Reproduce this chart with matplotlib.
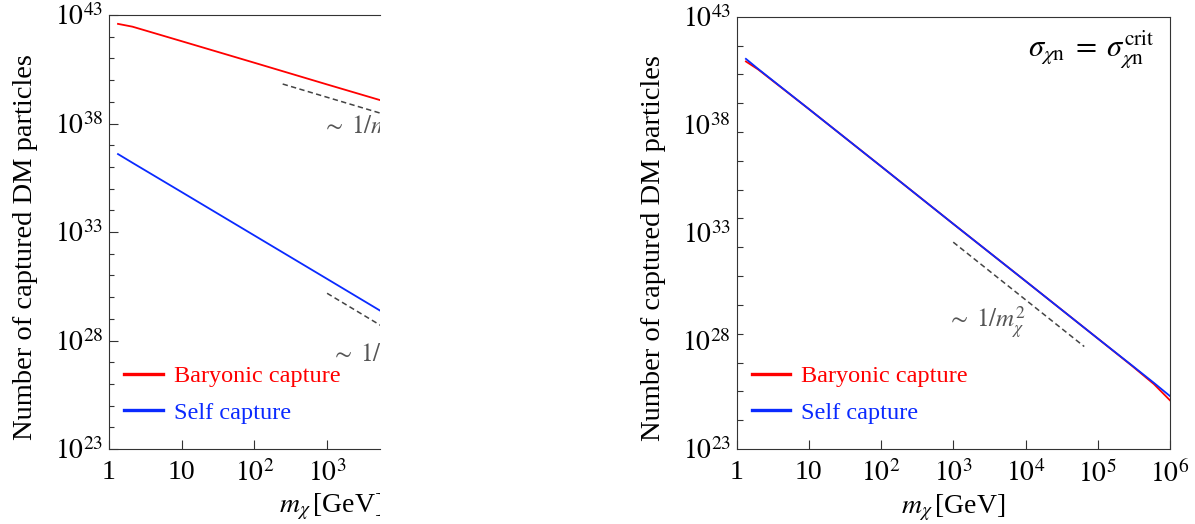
import numpy as np
import matplotlib
matplotlib.use("Agg")
import matplotlib.pyplot as plt
from matplotlib.ticker import FixedLocator, LogLocator, NullFormatter
from matplotlib.transforms import Bbox, TransformedBbox

plt.rcParams['font.family'] = ['Liberation Serif', 'DejaVu Serif']
plt.rcParams['mathtext.fontset'] = 'stix'

# left panel (cut off on the right in the original)
mx_left = [1.33, 2.1, 10, 100, 1e3, 6e3]
baryonic_left = [3.9e42, 2.9e42, 6.2e41, 6.3e40, 6.3e39, 1.07e39]
self_left = [3.9e36, 1.55e36, 6.9e34, 6.9e32, 6.9e30, 1.9e29]
guide1_x_left = [245, 6e3]
guide1_y_left = [6.6e39, 2.7e38]
guide2_x_left = [1e3, 6e3]
guide2_y_left = [1.5e30, 4.1e28]

# right panel, sigma = sigma_crit
mx_right = [1.35, 2, 10, 1e2, 1e3, 1e4, 1e5, 3e5, 6e5, 1e6]
baryonic_right = [8.5e40, 3.6e40, 5.4e38, 1.2e36, 2.6e33, 5.9e30, 1.3e28, 6.9e26, 1.0e26, 1.78e25]
self_right = [1.12e41, 3.8e40, 5.4e38, 1.2e36, 2.6e33, 5.9e30, 1.3e28, 7.2e26, 1.14e26, 2.8e25]
guide_x_right = [1e3, 6.5e4]
guide_y_right = [3.7e32, 5.5e27]

ytick_labels = [r'$10^{43}$', r'$10^{38}$', r'$10^{33}$', r'$10^{28}$', r'$10^{23}$']
xtick_labels = ['1', '10', r'$10^{2}$', r'$10^{3}$', r'$10^{4}$', r'$10^{5}$', r'$10^{6}$']

RED = '#ff0000'
BLUE = '#0a2aff'
GREY = '#444444'
W, H = 1195, 524

fig = plt.figure(figsize=(W / 100, H / 100), dpi=100)
ax1 = fig.add_axes([109 / W, 75 / H, 271 / W, 434 / H])
ax2 = fig.add_axes([736.5 / W, 75 / H, 433.5 / W, 432.3 / H])


def style_axes(ax, xmax):
    ax.set_xscale('log')
    ax.set_yscale('log')
    ax.set_xticks([10.0 ** k for k in range(7)], xtick_labels)
    ax.set_xlim(1, xmax)
    ax.set_ylim(1e23, 1e43)
    ax.set_yticks([10.0 ** k for k in (43, 38, 33, 28, 23)], ytick_labels)
    ax.xaxis.set_minor_locator(LogLocator(base=10, subs=np.arange(2, 10)))
    ax.xaxis.set_minor_formatter(NullFormatter())
    ax.yaxis.set_minor_formatter(NullFormatter())
    ax.tick_params(axis='both', which='both', direction='in', labelsize=20,
                   top=False, right=False, width=0.8, color='#333333')
    ax.tick_params(axis='x', which='major', length=6.5, pad=8)
    ax.tick_params(axis='x', which='minor', length=3.6)
    ax.tick_params(axis='y', pad=4)
    for s in ax.spines.values():
        s.set_linewidth(0.8)
        s.set_color('#333333')
    ax.set_ylabel('Number of captured DM particles', fontsize=20.5)
    ax.set_xlabel(r'$m_\chi\,$[GeV]', fontsize=20)


# ---- left ----
style_axes(ax1, 10 ** 3.728)
ax1.yaxis.set_minor_locator(FixedLocator([10.0 ** k for k in range(23, 44)]))
ax1.tick_params(axis='y', which='major', length=6.5)
ax1.tick_params(axis='y', which='minor', length=3.6)
ax1.spines['right'].set_visible(False)

ax1.plot(mx_left, baryonic_left, color=RED, lw=1.3, label='Baryonic capture')
ax1.plot(mx_left, self_left, color=BLUE, lw=1.3, label='Self capture')
ax1.plot(guide1_x_left, guide1_y_left, color=GREY, lw=1.1, ls=(0, (3.5, 2.2)))
ax1.plot(guide2_x_left, guide2_y_left, color=GREY, lw=1.1, ls=(0, (3.5, 2.2)))
ax1.text(850, 6.2e37, r'$\sim\; 1/m_\chi$', fontsize=18, color='#555555',
         va='center', ha='left', clip_on=True)
ax1.text(1150, 1.8e27, r'$\sim\; 1/m_\chi^2$', fontsize=18, color='#555555',
         va='center', ha='left', clip_on=True)

ax1.yaxis.set_label_coords(-71 / 271, 0.465)
ax1.xaxis.set_label_coords(222 / 271, -43 / 434)
ax1.xaxis.label.set_clip_box(TransformedBbox(Bbox([[-1, -1], [1, 2]]), ax1.transAxes))
ax1.xaxis.label.set_clip_on(True)

# ---- right ----
style_axes(ax2, 1e6)
# tick marks here do not line up with the labels
ax2.tick_params(axis='y', which='major', length=0)
ax2.yaxis.set_minor_locator(FixedLocator([10.0 ** (43 - k * 4 / 3) for k in range(16)]))
ax2.tick_params(axis='y', which='minor', length=4.2)

ax2.plot(mx_right, baryonic_right, color=RED, lw=1.3, label='Baryonic capture')
ax2.plot(mx_right, self_right, color=BLUE, lw=1.3, label='Self capture')
ax2.plot(guide_x_right, guide_y_right, color=GREY, lw=1.1, ls=(0, (3.5, 2.2)))
ax2.text(820, 7.4e28, r'$\sim\; 1/m_\chi^2$', fontsize=18, color='#555555',
         va='center', ha='left')
ax2.text(0.965, 0.923,
         r'$\sigma_{\chi\mathrm{n}}\;=\;\sigma_{\chi\mathrm{n}}^{\mathrm{crit}}$',
         transform=ax2.transAxes, fontsize=22, ha='right', va='center')

ax2.yaxis.set_label_coords(-71 / 433.5, 0.465)
ax2.xaxis.set_label_coords(0.5, -44 / 432.3)

for ax, w in ((ax1, 271), (ax2, 433.5)):
    leg = ax.legend(loc='center left', bbox_to_anchor=(15 / w, 0.126), frameon=False,
                    fontsize=17.5, labelcolor='linecolor', handlelength=1.6,
                    handletextpad=0.45, labelspacing=0.6, borderpad=0, borderaxespad=0)
    for h in leg.get_lines():
        h.set_linewidth(2.4)

fig.savefig('out.png', dpi=100)
